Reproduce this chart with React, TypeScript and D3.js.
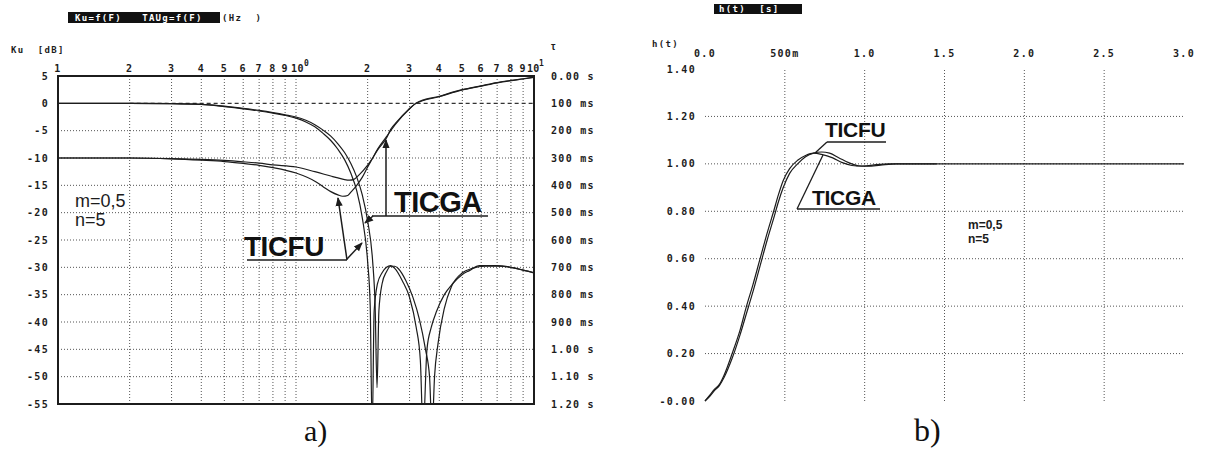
import React from 'react';
import * as d3 from 'd3';

// --- a) amplitude Ku [dB] vs F [Hz] ---
const fFU = [1, 2, 3, 4, 5, 6, 7, 8, 9, 10, 11, 12, 13, 14, 15, 16, 17, 18, 19, 20, 20.5, 20.9, 21.3, 22, 23, 24, 25, 26, 28, 30, 32, 33.3, 34.2, 35.5, 37, 39, 42, 45.5, 50, 53.5, 59, 70, 80, 90, 100];
const dbFU = [0, 0, -0.05, -0.2, -0.6, -1.0, -1.4, -1.8, -2.2, -2.7, -3.4, -4.3, -5.5, -6.8, -8.4, -10.3, -12.8, -16, -21, -29, -37, -60, -38, -33, -31, -30, -29.7, -30.2, -32.5, -35.5, -41, -47, -60, -45, -41, -38, -35, -33, -31.3, -30.6, -29.7, -29.7, -30, -30.5, -31];

const fGA = [1, 2, 3, 4, 5, 6, 7, 8, 9, 10, 11, 12, 13, 14, 15, 16, 17, 18, 19, 20, 21, 21.5, 21.9, 22.3, 23, 24, 25, 26, 27, 29, 31, 33, 35, 36.4, 37.3, 38.2, 39.5, 42, 45, 50, 55, 62, 70, 80, 90, 100];
const dbGA = [0, 0, -0.05, -0.2, -0.5, -0.9, -1.3, -1.7, -2.1, -2.5, -3.1, -3.9, -4.9, -6.0, -7.4, -9.0, -11.0, -13.5, -16.8, -21.5, -29, -37, -52, -38, -33, -30.8, -29.8, -29.8, -30.3, -32.5, -35.5, -39.5, -45, -50, -60, -50, -44, -37.5, -33.5, -31, -30.2, -29.8, -29.8, -30, -30.5, -31];

// group delay tau [ms]
const fTauGA = [1, 2, 3, 4, 5, 6, 7, 8, 10, 12, 14, 15, 16, 16.8, 17.5, 18.5, 20, 21, 22, 24, 25, 26.5, 29.6, 32, 40, 50, 60, 70, 80, 90, 100];
const tauGA = [300, 300, 302, 305, 309, 314, 319, 325, 333, 350, 366, 373, 379, 381, 378, 360, 326, 300, 271, 227, 195, 168, 124, 100, 76, 51, 37, 25, 17, 11, 5];

const fTauFU = [1, 2, 3, 4, 5, 6, 7, 8, 10, 12, 13, 14, 15, 15.7, 16.5, 17, 18, 19, 20, 21, 22, 24, 26, 30, 32, 40, 50, 60, 70, 80, 90, 100];
const tauFU = [300, 300, 303, 308, 313, 320, 327, 335, 355, 385, 405, 423, 435, 440, 437, 425, 400, 370, 333, 300, 268, 222, 180, 120, 99, 74, 50, 36, 24, 16, 10, 4];

const freqGrid = [2, 3, 4, 5, 6, 7, 8, 9, 10, 20, 30, 40, 50, 60, 70, 80, 90];
const freqLabels = ['2', '3', '4', '5', '6', '7', '8', '9', '', '2', '3', '4', '5', '6', '7', '8', '9'];
const dbTicks = [5, 0, -5, -10, -15, -20, -25, -30, -35, -40, -45, -50, -55];
const tauTicks = [0, 100, 200, 300, 400, 500, 600, 700, 800, 900, 1000, 1100, 1200];
const tauLabels = ['0.00 s', '100 ms', '200 ms', '300 ms', '400 ms', '500 ms', '600 ms', '700 ms', '800 ms', '900 ms', '1.00 s', '1.10 s', '1.20 s'];

// --- b) step response h(t) ---
const tGA = [0, 0.03, 0.06, 0.09, 0.12, 0.17, 0.22, 0.26, 0.3, 0.345, 0.39, 0.43, 0.46, 0.49, 0.53, 0.58, 0.63, 0.68, 0.73, 0.8, 0.86, 0.92, 0.98, 1.05, 1.15, 1.5, 2.0, 3.0];
const hGA = [0, 0.025, 0.05, 0.07, 0.11, 0.2, 0.3, 0.4, 0.49, 0.6, 0.71, 0.8, 0.87, 0.93, 0.98, 1.015, 1.035, 1.045, 1.04, 1.025, 1.005, 0.993, 0.99, 0.995, 1.0, 1.0, 1.0, 1.0];
const tFU = [0, 0.03, 0.06, 0.09, 0.12, 0.17, 0.22, 0.26, 0.3, 0.345, 0.39, 0.43, 0.46, 0.49, 0.53, 0.58, 0.63, 0.68, 0.73, 0.78, 0.84, 0.9, 0.96, 1.02, 1.1, 1.2, 1.45];
const hFU = [0, 0.02, 0.045, 0.065, 0.1, 0.18, 0.28, 0.37, 0.46, 0.57, 0.68, 0.77, 0.84, 0.9, 0.96, 1.0, 1.03, 1.045, 1.05, 1.045, 1.025, 1.005, 0.992, 0.99, 0.995, 1.0, 1.0];

const tTicks = [0, 0.5, 1, 1.5, 2, 2.5, 3];
const tLabels = ['0.0', '500m', '1.0', '1.5', '2.0', '2.5', '3.0'];
const hTicks = [0, 0.2, 0.4, 0.6, 0.8, 1.0, 1.2, 1.4];
const hLabels = ['-0.00', '0.20', '0.40', '0.60', '0.80', '1.00', '1.20', '1.40'];

const MONO = '"DejaVu Sans Mono", monospace';
const SANS = '"Liberation Sans", Arial, sans-serif';
const INK = '#1c1c1c';

const tickText = { fontFamily: MONO, fontWeight: 700, fontSize: 10, letterSpacing: 1.3, fill: INK } as const;

export default function App() {
  const fx = d3.scaleLog().domain([1, 100]).range([58, 534]);
  const yDb = d3.scaleLinear().domain([5, -55]).range([76, 404]);
  const yTau = d3.scaleLinear().domain([0, 1200]).range([76, 404]);

  const tx = d3.scaleLinear().domain([0, 3]).range([705, 1184]);
  const hy = d3.scaleLinear().domain([0, 1.4]).range([401, 69]);

  const dbLine = (fs: number[], vs: number[]) =>
    d3.line<number>().x((_, i) => fx(fs[i])).y((v) => yDb(v)).curve(d3.curveMonotoneX)(vs) || '';
  const tauLine = (fs: number[], vs: number[]) =>
    d3.line<number>().x((_, i) => fx(fs[i])).y((v) => yTau(v)).curve(d3.curveMonotoneX)(vs) || '';
  const hLine = (ts: number[], vs: number[]) =>
    d3.line<number>().x((_, i) => tx(ts[i])).y((v) => hy(v)).curve(d3.curveMonotoneX)(vs) || '';

  const [ax0, ax1] = fx.range();
  const [ay0, ay1] = yDb.range();
  const [bx0, bx1] = tx.range();
  const [by1, by0] = hy.range();

  return (
    <svg width={1208} height={451} style={{ position: 'absolute', left: 0, top: 0, background: '#fff' }}>
      <defs>
        <clipPath id="clipA">
          <rect x={ax0} y={ay0} width={ax1 - ax0} height={ay1 - ay0} />
        </clipPath>
        <marker id="arr" viewBox="0 0 10 10" refX="9" refY="5" markerWidth="6" markerHeight="6" orient="auto">
          <path d="M0,1 L10,5 L0,9 z" fill={INK} />
        </marker>
      </defs>

      {/* ---------- panel a ---------- */}
      <rect x={68} y={12} width={152} height={11} fill="#111" />
      <text x={75} y={21} {...tickText} fontSize={9} fill="#fff" style={{ whiteSpace: 'pre' }}>{'Ku=f(F)   TAUg=f(F)'}</text>
      <text x={222} y={21} {...tickText} fontSize={9} style={{ whiteSpace: 'pre' }}>{'(Hz  )'}</text>
      <text x={11} y={53} {...tickText} fontSize={9} style={{ whiteSpace: 'pre' }}>{'Ku  [dB]'}</text>
      <text x={551} y={50} fontFamily={SANS} fontWeight={700} fontSize={10} fill={INK}>τ</text>

      {/* grid */}
      {freqGrid.map((f) => (
        <line key={'vg' + f} x1={fx(f)} x2={fx(f)} y1={ay0} y2={ay1} stroke="#555" strokeWidth={1} strokeDasharray="1,2" />
      ))}
      {dbTicks.slice(1, -1).map((d) =>
        d === 0 ? (
          <line key={'hg' + d} x1={fx(2)} x2={ax1} y1={yDb(d)} y2={yDb(d)} stroke="#333" strokeWidth={1.3} strokeDasharray="4,3" />
        ) : (
          <line key={'hg' + d} x1={ax0} x2={ax1} y1={yDb(d)} y2={yDb(d)} stroke="#555" strokeWidth={1} strokeDasharray="1,2" />
        )
      )}

      {/* axis labels */}
      {dbTicks.map((d) => (
        <text key={'dl' + d} x={49} y={yDb(d) + 3.5} textAnchor="end" {...tickText}>{d}</text>
      ))}
      {tauTicks.map((t, i) => (
        <text key={'tl' + t} x={551} y={yTau(t) + 3.5} {...tickText} style={{ whiteSpace: 'pre' }}>{tauLabels[i]}</text>
      ))}
      <text x={fx(1)} y={72} textAnchor="middle" {...tickText}>1</text>
      {freqGrid.map((f, i) =>
        freqLabels[i] ? (
          <text key={'fl' + f} x={fx(f)} y={72} textAnchor="middle" {...tickText}>{freqLabels[i]}</text>
        ) : null
      )}
      <text x={fx(10) - 5} y={72} {...tickText} letterSpacing={0.5}>10</text>
      <text x={fx(10) + 8} y={66} {...tickText} fontSize={8} letterSpacing={0}>0</text>
      <text x={fx(100) - 7} y={72} {...tickText} letterSpacing={0.3}>10</text>
      <text x={fx(100) + 5} y={66} {...tickText} fontSize={8} letterSpacing={0}>1</text>

      {/* curves */}
      <g clipPath="url(#clipA)" fill="none" stroke={INK} strokeWidth={1.2}>
        <path d={dbLine(fFU, dbFU)} />
        <path d={dbLine(fGA, dbGA)} />
        <path d={tauLine(fTauGA, tauGA)} />
        <path d={tauLine(fTauFU, tauFU)} />
      </g>

      {/* frame */}
      <rect x={ax0} y={ay0} width={ax1 - ax0} height={ay1 - ay0} fill="none" stroke={INK} strokeWidth={2} />

      <text x={75} y={207} fontFamily={SANS} fontSize={18} fill={INK}>m=0,5</text>
      <text x={75} y={226} fontFamily={SANS} fontSize={18} fill={INK}>n=5</text>

      {/* TICGA label */}
      <text x={394} y={212} fontFamily={SANS} fontWeight={700} fontSize={29} fill="#111" letterSpacing={-0.5}>TICGA</text>
      <g stroke={INK} strokeWidth={1.5} fill="none">
        <line x1={372} y1={216} x2={488} y2={216} />
        <line x1={386} y1={216} x2={386} y2={140} markerEnd="url(#arr)" />
        <line x1={373} y1={216} x2={365} y2={223} markerEnd="url(#arr)" />
      </g>
      {/* TICFU label */}
      <text x={244} y={256} fontFamily={SANS} fontWeight={700} fontSize={28} fill="#111" letterSpacing={-0.5}>TICFU</text>
      <g stroke={INK} strokeWidth={1.5} fill="none">
        <line x1={247} y1={260} x2={347} y2={260} />
        <line x1={347} y1={260} x2={338} y2={198} markerEnd="url(#arr)" />
        <line x1={347} y1={259} x2={362} y2={243} markerEnd="url(#arr)" />
      </g>

      <text x={304} y={441} fontFamily='"Liberation Serif", "Times New Roman", serif' fontSize={30} fill="#111">a)</text>

      {/* ---------- panel b ---------- */}
      <rect x={714} y={4} width={88} height={10} fill="#111" />
      <text x={719} y={12} {...tickText} fontSize={9} fill="#fff" style={{ whiteSpace: 'pre' }}>{'h(t)  [s]'}</text>
      <text x={652} y={47} {...tickText} fontSize={9}>h(t)</text>

      {tTicks.slice(1, -1).map((t) => (
        <line key={'bvg' + t} x1={tx(t)} x2={tx(t)} y1={by1} y2={by0} stroke="#555" strokeWidth={1} strokeDasharray="1,2" />
      ))}
      {hTicks.slice(1, -1).map((h) => (
        <line key={'bhg' + h} x1={bx0} x2={bx1} y1={hy(h)} y2={hy(h)} stroke="#555" strokeWidth={1} strokeDasharray="1,2" />
      ))}
      {tTicks.map((t, i) => (
        <text key={'btl' + t} x={tx(t)} y={57} textAnchor="middle" {...tickText}>{tLabels[i]}</text>
      ))}
      {hTicks.map((h, i) => (
        <text key={'bhl' + h} x={696} y={hy(h) + 3.5} textAnchor="end" {...tickText}>{hLabels[i]}</text>
      ))}

      <g fill="none" stroke={INK} strokeWidth={1.2}>
        <path d={hLine(tGA, hGA)} />
        <path d={hLine(tFU, hFU)} />
      </g>

      <rect x={bx0} y={by1} width={bx1 - bx0} height={by0 - by1} fill="none" stroke={INK} strokeWidth={2} />

      <text x={825} y={137} fontFamily={SANS} fontWeight={700} fontSize={21} fill="#111" letterSpacing={-0.3}>TICFU</text>
      <text x={812} y={205} fontFamily={SANS} fontWeight={700} fontSize={21} fill="#111" letterSpacing={-0.3}>TICGA</text>
      <g stroke={INK} strokeWidth={1.3} fill="none">
        <line x1={827} y1={142} x2={886} y2={142} />
        <line x1={827} y1={142} x2={815} y2={153} />
        <line x1={797} y1={209} x2={880} y2={209} />
        <line x1={797} y1={209} x2={823} y2={155} />
      </g>

      <text x={968} y={229} fontFamily={SANS} fontWeight={700} fontSize={12} fill={INK}>m=0,5</text>
      <text x={968} y={243} fontFamily={SANS} fontWeight={700} fontSize={12} fill={INK}>n=5</text>

      <text x={914} y={441} fontFamily='"Liberation Serif", "Times New Roman", serif' fontSize={32} fill="#111">b)</text>
    </svg>
  );
}
